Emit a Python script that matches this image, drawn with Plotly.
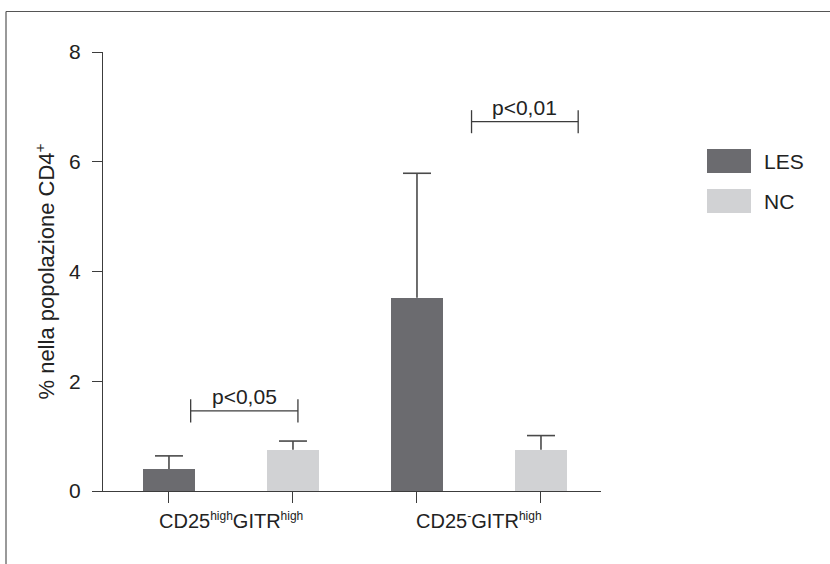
import plotly.graph_objects as go

# ---- data ----
SUP = "<sup><span style='font-size:12px'>{}</span></sup>"
groups = ["CD25" + SUP.format("high") + "GITR" + SUP.format("high"),
          "CD25" + SUP.format("-") + "GITR" + SUP.format("high")]
series = ["LES", "NC"]
les_values = [0.40, 3.52]
les_err_plus = [0.24, 2.27]
nc_values = [0.75, 0.75]
nc_err_plus = [0.16, 0.26]
# significance brackets: (x_left, x_right, y, label)
brackets = [(0.175, 1.04, 1.46, "p<0,05"), (2.44, 3.30, 6.73, "p<0,01")]
y_ticks = [0, 2, 4, 6, 8]

colors = {"LES": "#6b6b6f", "NC": "#d1d2d4"}
axis_color = "#3c3c3c"
err_color = "#4a4a4a"
font_family = "Liberation Sans, Arial, sans-serif"

W, H = 830, 564
L, R, T, B = 103, 601, 52, 491
X_RANGE = [-0.532, 3.484]
unit_px = (R - L) / (X_RANGE[1] - X_RANGE[0])
cap_half = 14 / unit_px

def px(x):
    return (x - L) / (R - L)

def py(y):
    return (B - y) / (B - T)

les_x = [2 * i for i in range(len(groups))]
nc_x = [2 * i + 1 for i in range(len(groups))]

fig = go.Figure()
for name, xs, vals, errs in [("LES", les_x, les_values, les_err_plus),
                             ("NC", nc_x, nc_values, nc_err_plus)]:
    fig.add_trace(go.Bar(
        x=xs, y=vals, name=name, width=0.42,
        marker=dict(color=colors[name], line=dict(width=0)),
        showlegend=False, hoverinfo="x+y",
    ))
    # upward-only error bars (stem + top cap)
    ex, ey = [], []
    for x, v, e in zip(xs, vals, errs):
        ex += [x, x, None, x - cap_half, x + cap_half, None]
        ey += [v, v + e, None, v + e, v + e, None]
    fig.add_trace(go.Scatter(x=ex, y=ey, mode="lines", showlegend=False,
                             line=dict(color=err_color, width=1.6),
                             hoverinfo="skip"))

shapes = []
annotations = []
for x0, x1, y, label in brackets:
    shapes.append(dict(type="line", xref="x", yref="y", x0=x0, x1=x1, y0=y, y1=y,
                       line=dict(color=axis_color, width=1.3)))
    for xe in (x0, x1):
        shapes.append(dict(type="line", xref="x", yref="y", x0=xe, x1=xe,
                           y0=y - 0.21, y1=y + 0.21,
                           line=dict(color=axis_color, width=1.3)))
    annotations.append(dict(x=(x0 + x1) / 2, y=y, xref="x", yref="y", text=label,
                            showarrow=False, yanchor="bottom", yshift=1,
                            font=dict(size=21, color="#222", family=font_family)))

# group labels
for i, g in enumerate(groups):
    annotations.append(dict(x=2 * i + 0.5, y=0, xref="x", yref="y", text=g,
                            showarrow=False, yanchor="top", yshift=-16,
                            font=dict(size=20, color="#222", family=font_family)))

# custom legend
for j, name in enumerate(series):
    top = 149 + j * 40
    shapes.append(dict(type="rect", xref="paper", yref="paper",
                       x0=px(707), x1=px(751), y0=py(top + 24), y1=py(top),
                       fillcolor=colors[name], line=dict(width=0)))
    annotations.append(dict(x=px(762), y=py(top + 12), xref="paper", yref="paper",
                            text=name, showarrow=False, xanchor="left", yanchor="middle",
                            font=dict(size=21, color="#222", family=font_family)))

# outer frame
shapes.append(dict(type="line", xref="paper", yref="paper", x0=px(6), x1=px(6),
                   y0=py(11.5), y1=py(570), line=dict(color="#555", width=1.2)))
shapes.append(dict(type="line", xref="paper", yref="paper", x0=px(6), x1=px(840),
                   y0=py(11.5), y1=py(11.5), line=dict(color="#555", width=1.2)))

fig.update_layout(
    width=W, height=H,
    margin=dict(l=L, r=W - R, t=T, b=H - B, pad=0),
    paper_bgcolor="white", plot_bgcolor="white",
    font=dict(family=font_family, size=20, color="#222"),
    bargap=0,
    shapes=shapes, annotations=annotations,
    xaxis=dict(range=X_RANGE, tickvals=les_x + nc_x, ticktext=[""] * 4,
               ticks="outside", ticklen=11, tickwidth=1.3, tickcolor=axis_color,
               showline=True, linecolor=axis_color, linewidth=1.3,
               showgrid=False, zeroline=False, fixedrange=True),
    yaxis=dict(range=[0, 8], tickvals=y_ticks, ticks="outside", ticklen=10,
               tickwidth=1.3, tickcolor=axis_color, showline=True,
               linecolor=axis_color, linewidth=1.3, showgrid=False, zeroline=False,
               tickfont=dict(size=21), ticklabelstandoff=7,
               title=dict(text="% nella popolazione CD4<sup>+</sup>", standoff=8,
                          font=dict(size=22))),
)

fig.write_html("out.html", config={"displayModeBar": False},
               post_script="document.body.style.margin='0';document.body.style.overflow='hidden';")
